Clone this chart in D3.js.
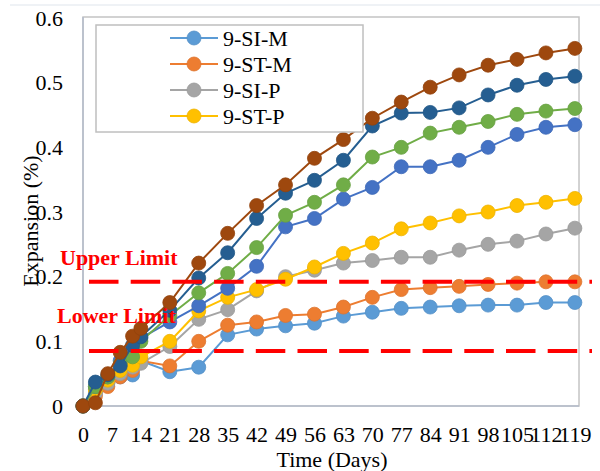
<!DOCTYPE html>
<html>
<head>
<meta charset="utf-8">
<script src="https://cdn.jsdelivr.net/npm/d3@7"></script>
<style>
  body { margin: 0; background: #fff; }
  svg text { font-family: "Liberation Serif", "Times New Roman", serif; }
</style>
</head>
<body>
<div id="viz"></div>
<script>
// test days
var days = [0, 3, 6, 9, 12, 14, 21, 28, 35, 42, 49, 56, 63, 70, 77, 84, 91, 98, 105, 112, 119];
var xTicks = [0, 7, 14, 21, 28, 35, 42, 49, 56, 63, 70, 77, 84, 91, 98, 105, 112, 119];
var yTicks = [0, 0.1, 0.2, 0.3, 0.4, 0.5, 0.6];

var siM  = [0, 0.02, 0.035, 0.045, 0.048, 0.07, 0.053, 0.06, 0.11, 0.119, 0.124, 0.128, 0.139, 0.145, 0.151, 0.153, 0.155, 0.156, 0.156, 0.16, 0.16];
var stM  = [0, 0.015, 0.03, 0.045, 0.055, 0.07, 0.062, 0.1, 0.125, 0.13, 0.14, 0.142, 0.153, 0.168, 0.18, 0.183, 0.185, 0.188, 0.19, 0.192, 0.192];
var siP  = [0, 0.02, 0.035, 0.05, 0.06, 0.066, 0.092, 0.134, 0.149, 0.178, 0.2, 0.21, 0.221, 0.225, 0.23, 0.23, 0.241, 0.25, 0.255, 0.266, 0.275];
var stP  = [0, 0.025, 0.04, 0.055, 0.063, 0.076, 0.1, 0.147, 0.168, 0.18, 0.196, 0.215, 0.236, 0.252, 0.274, 0.283, 0.294, 0.3, 0.31, 0.315, 0.321];
// the other four series have no legend entry
var s5   = [0, 0.03, 0.045, 0.07, 0.09, 0.105, 0.13, 0.155, 0.182, 0.216, 0.277, 0.29, 0.32, 0.338, 0.37, 0.37, 0.38, 0.4, 0.42, 0.431, 0.435];
var s6   = [0, 0.03, 0.045, 0.065, 0.076, 0.1, 0.14, 0.175, 0.205, 0.245, 0.295, 0.315, 0.342, 0.385, 0.4, 0.422, 0.431, 0.44, 0.451, 0.456, 0.46];
var s7   = [0, 0.037, 0.048, 0.062, 0.094, 0.107, 0.148, 0.198, 0.237, 0.29, 0.329, 0.349, 0.38, 0.433, 0.453, 0.454, 0.461, 0.481, 0.496, 0.505, 0.51];
var s8   = [0, 0.005, 0.05, 0.083, 0.108, 0.12, 0.16, 0.221, 0.267, 0.31, 0.342, 0.383, 0.412, 0.445, 0.47, 0.493, 0.512, 0.527, 0.536, 0.546, 0.553];

var seriesNames = ['9-SI-M', '9-ST-M', '9-SI-P', '9-ST-P', 'S5', 'S6', 'S7', 'S8'];
var legendNames = ['9-SI-M', '9-ST-M', '9-SI-P', '9-ST-P'];
var colors = ['#5B9BD5', '#ED7D31', '#A5A5A5', '#FFC000', '#4472C4', '#70AD47', '#255E91', '#9E480E'];
var allValues = [siM, stM, siP, stP, s5, s6, s7, s8];

var upperLimit = 0.192;
var lowerLimit = 0.085;

var chart = ({width: 600, height: 471});
var serif = '"Liberation Serif", "Times New Roman", serif';

var svg = d3.select('#viz').append('svg')
  .attr('width', chart.width)
  .attr('height', chart.height)
  .attr('font-family', serif);

var xScale = d3.scaleLinear().domain([0, 120]).range([83, 579]);
var yScale = d3.scaleLinear().domain([0, 0.6]).range([406, 18]);

// faint chart area edge
svg.append('line')
  .attr('x1', 10).attr('x2', 600).attr('y1', 5).attr('y2', 5)
  .attr('stroke', '#dfe5ec').attr('stroke-width', 1);

// plot frame
svg.append('rect')
  .attr('x', 83).attr('y', 17)
  .attr('width', 496).attr('height', 389)
  .attr('fill', 'none')
  .attr('stroke', '#c4c4c4')
  .attr('stroke-width', 1.5);

svg.append('line')
  .attr('x1', 83).attr('x2', 83).attr('y1', 17).attr('y2', 406)
  .attr('stroke', '#b4bccb').attr('stroke-width', 1.5);
svg.append('line')
  .attr('x1', 83).attr('x2', 579).attr('y1', 406).attr('y2', 406)
  .attr('stroke', '#b4bccb').attr('stroke-width', 1.5);

// axes, only the labels are kept
var xAxis = d3.axisBottom(xScale).tickValues(xTicks).tickSize(0).tickPadding(20);
var yAxis = d3.axisLeft(yScale).tickValues(yTicks).tickSize(0).tickPadding(20)
  .tickFormat((d) => +d.toFixed(1) + '');

var gx = svg.append('g').attr('transform', 'translate(0,406)').call(xAxis);
gx.attr('font-family', serif).attr('font-size', 22);
gx.select('.domain').remove();
gx.selectAll('text').attr('fill', '#000');

var gy = svg.append('g').attr('transform', 'translate(83,0)').call(yAxis);
gy.attr('font-family', serif).attr('font-size', 22);
gy.select('.domain').remove();
gy.selectAll('text').attr('fill', '#000');

svg.append('text')
  .attr('x', 332).attr('y', 467)
  .attr('text-anchor', 'middle')
  .attr('font-size', 22)
  .text('Time (Days)');

svg.append('text')
  .attr('transform', 'translate(38,221) rotate(-90)')
  .attr('text-anchor', 'middle')
  .attr('font-size', 22)
  .text('Expansion (%)');

// series
var line = d3.line()
  .x((d) => xScale(d.day))
  .y((d) => yScale(d.v));

allValues.forEach(function(vals, i) {
  var pts = vals.map((v, j) => ({day: days[j], v: v}));
  var g = svg.append('g').attr('class', 'series').attr('data-name', seriesNames[i]);
  g.append('path')
    .datum(pts)
    .attr('d', line)
    .attr('fill', 'none')
    .attr('stroke', colors[i])
    .attr('stroke-width', 2);
  g.selectAll('circle')
    .data(pts)
    .enter()
    .append('circle')
    .attr('cx', (d) => xScale(d.day))
    .attr('cy', (d) => yScale(d.v))
    .attr('r', 7)
    .attr('fill', colors[i])
    .attr('stroke', d3.color(colors[i]).darker(0.2))
    .attr('stroke-width', 0.8);
});

// limit lines
[upperLimit, lowerLimit].forEach(function(v) {
  svg.append('line')
    .attr('x1', 89).attr('x2', 592)
    .attr('y1', yScale(v)).attr('y2', yScale(v))
    .attr('stroke', '#ff0000')
    .attr('stroke-width', 4)
    .attr('stroke-dasharray', '29.5,12.2');
});

svg.append('text')
  .attr('x', 60).attr('y', 265)
  .attr('font-size', 22).attr('font-weight', 'bold')
  .attr('fill', '#ff0000')
  .text('Upper Limit');

svg.append('text')
  .attr('x', 57).attr('y', 323)
  .attr('font-size', 22).attr('font-weight', 'bold')
  .attr('fill', '#ff0000')
  .text('Lower Limit');

// legend
var legend = svg.append('g').attr('id', 'legend');
legend.append('rect')
  .attr('x', 96).attr('y', 25)
  .attr('width', 267).attr('height', 107)
  .attr('fill', '#fff')
  .attr('stroke', '#bfbfbf')
  .attr('stroke-width', 1.5);

legendNames.forEach(function(name, i) {
  var y = 38 + i * 26;
  legend.append('line')
    .attr('x1', 170).attr('x2', 218).attr('y1', y).attr('y2', y)
    .attr('stroke', colors[i]).attr('stroke-width', 2);
  legend.append('circle')
    .attr('cx', 194).attr('cy', y).attr('r', 7)
    .attr('fill', colors[i])
    .attr('stroke', d3.color(colors[i]).darker(0.2))
    .attr('stroke-width', 0.8);
  legend.append('text')
    .attr('x', 223).attr('y', y + 8)
    .attr('font-size', 22)
    .text(name);
});
</script>
</body>
</html>
